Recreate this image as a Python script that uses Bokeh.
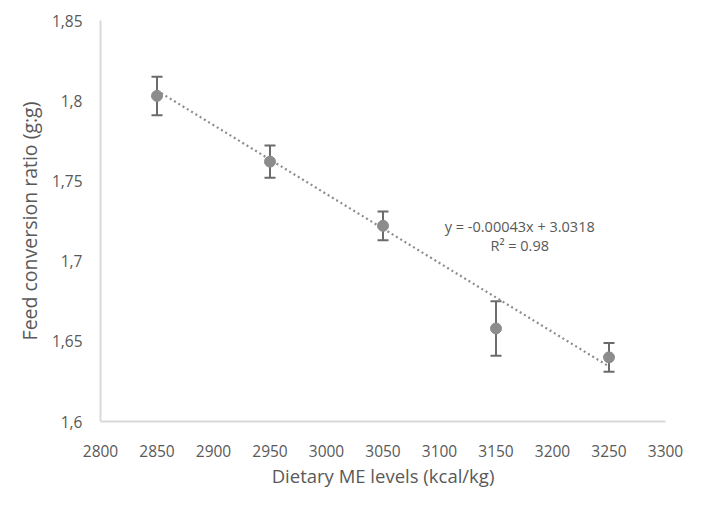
from bokeh.plotting import figure
from bokeh.models import ColumnDataSource, Whisker, Label, FixedTicker, TeeHead
from bokeh.embed import file_html
from bokeh.resources import INLINE

# Data
me_levels = [2850, 2950, 3050, 3150, 3250]
fcr = [1.803, 1.762, 1.722, 1.658, 1.640]
fcr_err = [0.012, 0.010, 0.009, 0.017, 0.009]

trend_x = [2850, 3250]
trend_y = [1.8063, 1.6343]

x_ticks = [2800, 2850, 2900, 2950, 3000, 3050, 3100, 3150, 3200, 3250, 3300]
y_ticks = [1.6, 1.65, 1.7, 1.75, 1.8, 1.85]
y_tick_labels = ["1,6", "1,65", "1,7", "1,75", "1,8", "1,85"]

eq_text = "y = -0.00043x + 3.0318"
r2_text = "R\u00b2 = 0.98"

FONT = "Open Sans"
TXT = "#595959"
AX = "#d9d9d9"

src = ColumnDataSource(dict(
    x=me_levels, y=fcr,
    upper=[v + e for v, e in zip(fcr, fcr_err)],
    lower=[v - e for v, e in zip(fcr, fcr_err)],
))

p = figure(output_backend="svg", toolbar_location=None,
           width=685, height=490,
           x_range=(2800, 3300), y_range=(1.6, 1.85),
           min_border_left=100, min_border_top=20, min_border_right=20,
           min_border_bottom=66)
p.outline_line_color = None
p.xgrid.visible = False
p.ygrid.visible = False
p.background_fill_color = "white"
p.border_fill_color = "white"

# trend line
p.line(trend_x, trend_y, line_color="#8c8c8c", line_width=2.2, line_dash="2 3")

# error bars
w = Whisker(source=src, base="x", upper="upper", lower="lower",
            line_color="#6b6b6b", line_width=2,
            upper_head=TeeHead(size=11, line_color="#6b6b6b", line_width=2),
            lower_head=TeeHead(size=11, line_color="#6b6b6b", line_width=2))
p.add_layout(w)

# points
p.scatter("x", "y", source=src, size=11, fill_color="#8c8c8c", line_color="#8c8c8c")

# axes
p.xaxis.ticker = FixedTicker(ticks=x_ticks)
p.yaxis.ticker = FixedTicker(ticks=y_ticks)
p.yaxis.major_label_overrides = {t: l for t, l in zip(y_ticks, y_tick_labels)}
for ax in (p.xaxis, p.yaxis):
    ax.axis_line_color = AX
    ax.axis_line_width = 2
    ax.major_tick_line_color = None
    ax.minor_tick_line_color = None
    ax.major_label_text_font = FONT
    ax.major_label_text_font_size = "15.5px"
    ax.major_label_text_color = TXT
    ax.axis_label_text_font = FONT
    ax.axis_label_text_color = TXT
    ax.axis_label_text_font_style = "normal"
p.xaxis.axis_label_text_font_size = "18.5px"
p.yaxis.axis_label_text_font_size = "19.5px"
p.xaxis.axis_label = "Dietary ME levels (kcal/kg)"
p.yaxis.axis_label = "Feed conversion ratio (g:g)"
p.xaxis.major_label_standoff = 17
p.yaxis.major_label_standoff = 12
p.xaxis.axis_label_standoff = 3
p.yaxis.axis_label_standoff = 6

p.add_layout(Label(x=3171, y=1.7213, text=eq_text, text_align="center",
                   text_baseline="middle", text_font=FONT,
                   text_font_size="14.5px", text_color=TXT))
p.add_layout(Label(x=3171, y=1.7100, text=r2_text, text_align="center",
                   text_baseline="middle", text_font=FONT,
                   text_font_size="14.5px", text_color=TXT))

open("out.html", "w").write(file_html(p, INLINE))
